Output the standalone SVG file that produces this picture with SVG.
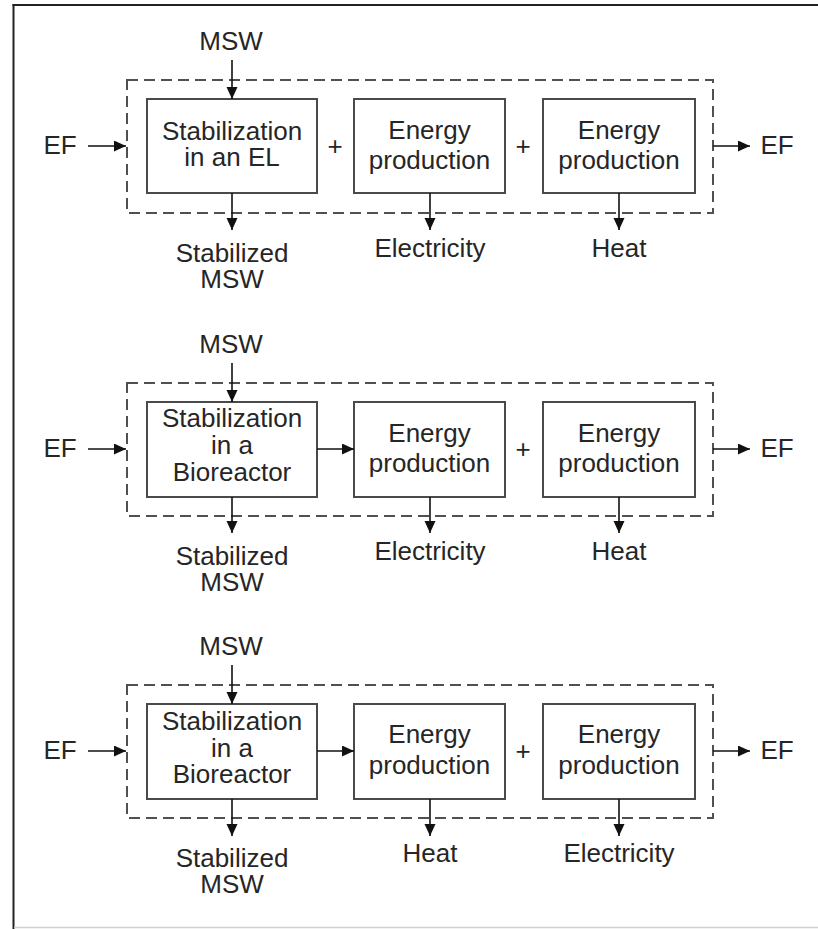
<svg xmlns="http://www.w3.org/2000/svg" width="818" height="929" viewBox="0 0 818 929">
<style>
text{font-family:"Liberation Sans",Arial,sans-serif;font-size:26px;fill:#262626;text-anchor:middle}
.box{fill:#fff;stroke:#4a4a4a;stroke-width:2}
.dash{fill:none;stroke:#505050;stroke-width:2;stroke-dasharray:11 6}
.c{stroke:#111;stroke-width:1.6;fill:none;marker-end:url(#ah)}
</style>
<defs>
<marker id="ah" markerUnits="userSpaceOnUse" markerWidth="13" markerHeight="12" refX="12" refY="5.5" orient="auto">
<path d="M0,0 L12,5.5 L0,11 z" fill="#111"/>
</marker>
</defs>
<rect width="818" height="929" fill="#fff"/>
<g id="frame">
<line x1="13.5" y1="4" x2="13.5" y2="929" stroke="#222" stroke-width="2"/>
<line x1="12.5" y1="5" x2="818" y2="5" stroke="#222" stroke-width="2"/>
<line x1="14" y1="927.5" x2="818" y2="927.5" stroke="#d0d0d0" stroke-width="1.5"/>
</g>

<!-- Panel 1 -->
<g id="panel1">
<rect id="p1-sys" class="dash" x="127" y="80" width="586" height="133"/>
<g id="p1-stab"><rect class="box" x="147" y="99" width="170" height="94"/><text x="232" y="140">Stabilization</text><text x="232" y="166">in an EL</text></g>
<g id="p1-e1"><rect class="box" x="354" y="99" width="151" height="94"/><text x="429.5" y="139">Energy</text><text x="429.5" y="169">production</text></g>
<g id="p1-e2"><rect class="box" x="543" y="99" width="152" height="94"/><text x="619" y="139">Energy</text><text x="619" y="169">production</text></g>
<text x="335" y="155">+</text>
<text x="523" y="155">+</text>
<g id="p1-msw"><text x="231" y="50">MSW</text></g>
<g id="p1-efin"><text x="60" y="154">EF</text></g>
<g id="p1-efout"><text x="777" y="154">EF</text></g>
<g id="p1-smsw"><text x="232" y="262">Stabilized</text><text x="232" y="288">MSW</text></g>
<g id="p1-elec"><text x="430" y="257">Electricity</text></g>
<g id="p1-heat"><text x="619" y="257">Heat</text></g>
</g>

<!-- Panel 2 -->
<g id="panel2">
<rect id="p2-sys" class="dash" x="127" y="383" width="586" height="133"/>
<g id="p2-stab"><rect class="box" x="147" y="402" width="170" height="95"/><text x="232" y="427">Stabilization</text><text x="232" y="454">in a</text><text x="232" y="481">Bioreactor</text></g>
<g id="p2-e1"><rect class="box" x="354" y="402" width="151" height="95"/><text x="429.5" y="442">Energy</text><text x="429.5" y="472">production</text></g>
<g id="p2-e2"><rect class="box" x="543" y="402" width="152" height="95"/><text x="619" y="442">Energy</text><text x="619" y="472">production</text></g>
<text x="523" y="458">+</text>
<g id="p2-msw"><text x="231" y="353">MSW</text></g>
<g id="p2-efin"><text x="60" y="457">EF</text></g>
<g id="p2-efout"><text x="777" y="457">EF</text></g>
<g id="p2-smsw"><text x="232" y="565">Stabilized</text><text x="232" y="591">MSW</text></g>
<g id="p2-elec"><text x="430" y="560">Electricity</text></g>
<g id="p2-heat"><text x="619" y="560">Heat</text></g>
</g>

<!-- Panel 3 -->
<g id="panel3">
<rect id="p3-sys" class="dash" x="127" y="685" width="586" height="133"/>
<g id="p3-stab"><rect class="box" x="147" y="704" width="170" height="95"/><text x="232" y="730">Stabilization</text><text x="232" y="757">in a</text><text x="232" y="783">Bioreactor</text></g>
<g id="p3-e1"><rect class="box" x="354" y="704" width="151" height="95"/><text x="429.5" y="743">Energy</text><text x="429.5" y="774">production</text></g>
<g id="p3-e2"><rect class="box" x="543" y="704" width="152" height="95"/><text x="619" y="743">Energy</text><text x="619" y="774">production</text></g>
<text x="523" y="760">+</text>
<g id="p3-msw"><text x="231" y="655">MSW</text></g>
<g id="p3-efin"><text x="60" y="759">EF</text></g>
<g id="p3-efout"><text x="777" y="759">EF</text></g>
<g id="p3-smsw"><text x="232" y="867">Stabilized</text><text x="232" y="893">MSW</text></g>
<g id="p3-heat"><text x="430" y="862">Heat</text></g>
<g id="p3-elec"><text x="619" y="862">Electricity</text></g>
</g>

<g id="connectors">
<!-- panel 1 -->
<line class="c" x1="232" y1="60" x2="232" y2="99"/>
<line class="c" x1="88" y1="146" x2="126" y2="146"/>
<line class="c" x1="713" y1="146" x2="750" y2="146"/>
<line class="c" x1="232" y1="193" x2="232" y2="230"/>
<line class="c" x1="430" y1="193" x2="430" y2="230"/>
<line class="c" x1="619" y1="193" x2="619" y2="230"/>
<!-- panel 2 -->
<line class="c" x1="232" y1="363" x2="232" y2="402"/>
<line class="c" x1="88" y1="449" x2="126" y2="449"/>
<line class="c" x1="317" y1="449" x2="354" y2="449"/>
<line class="c" x1="713" y1="449" x2="750" y2="449"/>
<line class="c" x1="232" y1="497" x2="232" y2="533"/>
<line class="c" x1="430" y1="497" x2="430" y2="533"/>
<line class="c" x1="619" y1="497" x2="619" y2="533"/>
<!-- panel 3 -->
<line class="c" x1="232" y1="665" x2="232" y2="704"/>
<line class="c" x1="88" y1="751" x2="126" y2="751"/>
<line class="c" x1="317" y1="751" x2="354" y2="751"/>
<line class="c" x1="713" y1="751" x2="750" y2="751"/>
<line class="c" x1="232" y1="799" x2="232" y2="836"/>
<line class="c" x1="430" y1="799" x2="430" y2="836"/>
<line class="c" x1="619" y1="799" x2="619" y2="836"/>
</g>
</svg>
